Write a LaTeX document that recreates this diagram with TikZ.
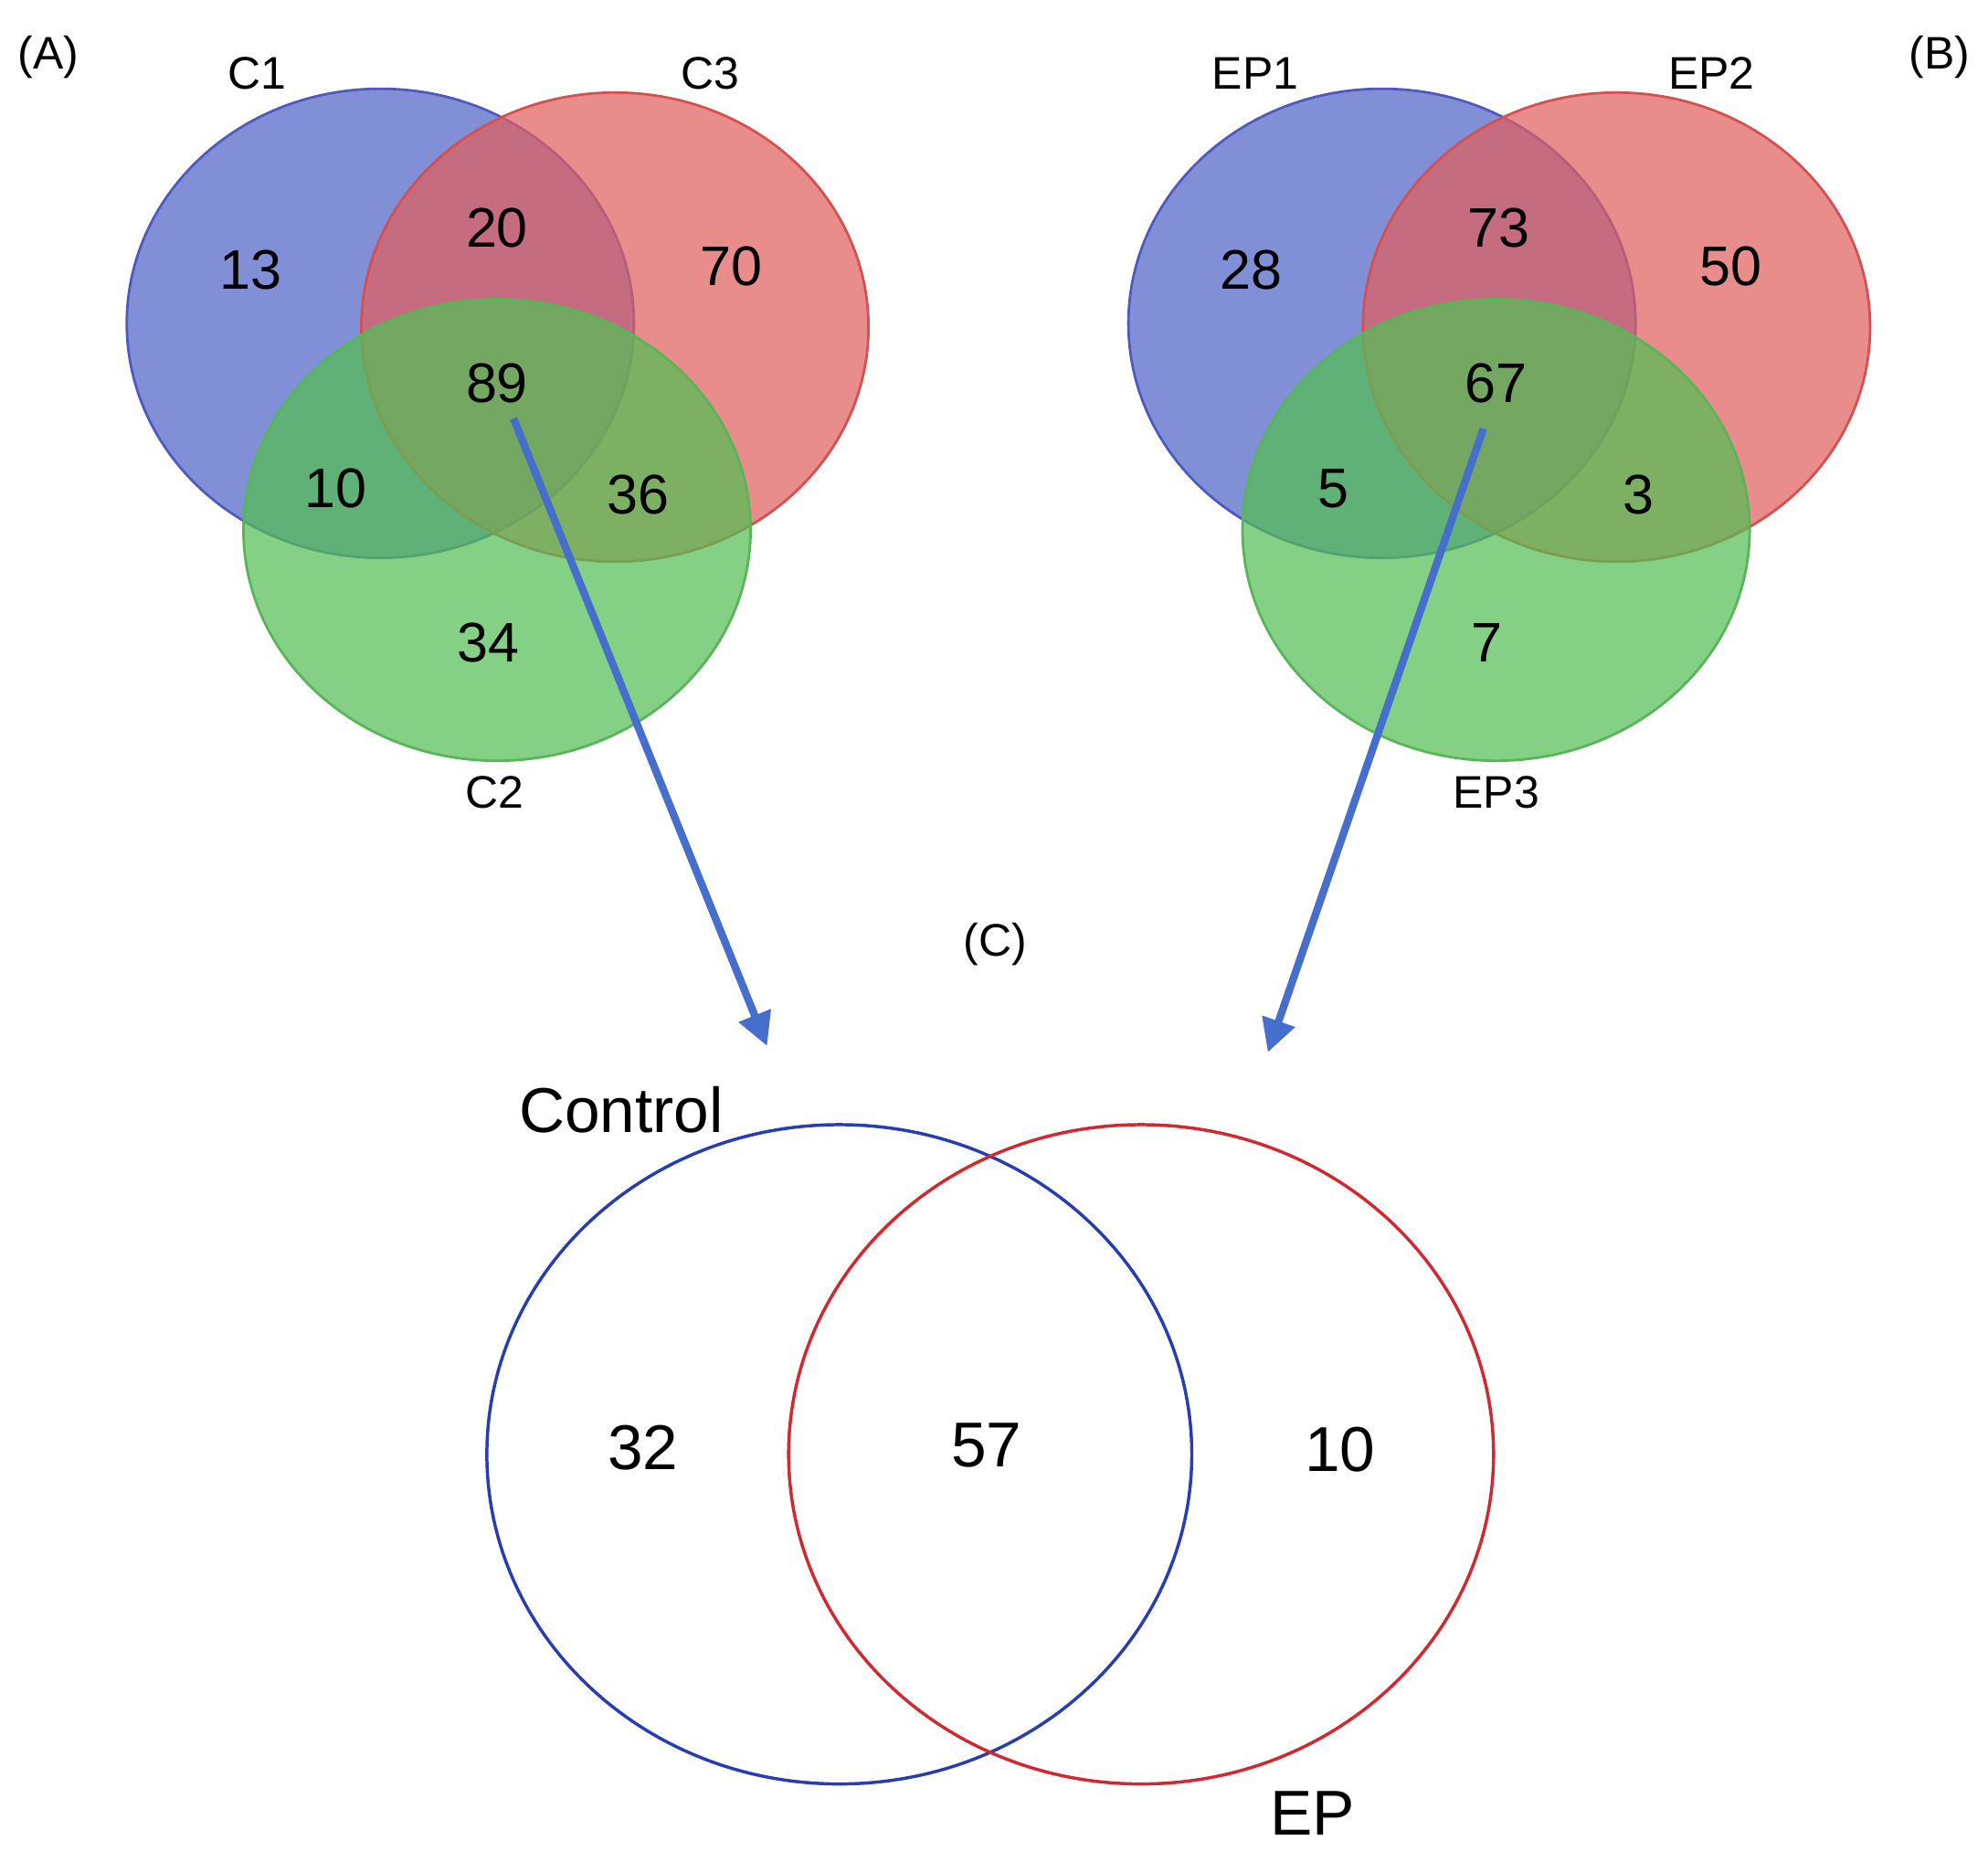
\documentclass[tikz,border=0pt]{standalone}
\usepackage{fontspec}
\setmainfont{Liberation Sans}
\usetikzlibrary{arrows.meta}
\begin{document}
\begin{tikzpicture}[x=1pt,y=-1pt,
  num/.style={font=\fontsize{44}{48}\selectfont},
  lab/.style={font=\fontsize{36}{40}\selectfont},
  big/.style={font=\fontsize{50}{56}\selectfont},
  setb/.style={draw={rgb,255:red,80;green,90;blue,190}, fill={rgb,255:red,80;green,100;blue,200}, fill opacity=0.72, line width=2pt},
  setr/.style={draw={rgb,255:red,215;green,80;blue,80}, fill={rgb,255:red,225;green,95;blue,95}, fill opacity=0.72, line width=2pt},
  setg/.style={draw={rgb,255:red,90;green,180;blue,90}, fill={rgb,255:red,85;green,190;blue,85}, fill opacity=0.72, line width=2pt},
  arr/.style={draw={rgb,255:red,70;green,110;blue,205}, line width=6pt, -{Triangle[length=26pt,width=26pt]}}]
\useasboundingbox (0,0) rectangle (1568,1468);
% A
\path[setb] (300,255) ellipse [x radius=200, y radius=185];
\path[setr] (485,258) ellipse [x radius=200, y radius=185];
\path[setg] (392,418) ellipse [x radius=200, y radius=182];
% B
\path[setb] (1090,255) ellipse [x radius=200, y radius=185];
\path[setr] (1275,258) ellipse [x radius=200, y radius=185];
\path[setg] (1180,418) ellipse [x radius=200, y radius=182];
% C
\draw[line width=2.5pt, draw={rgb,255:red,40;green,60;blue,180}] (662,1147) ellipse [x radius=278, y radius=260];
\draw[line width=2.5pt, draw={rgb,255:red,210;green,40;blue,50}] (900,1147) ellipse [x radius=278, y radius=260];
% labels
\node[lab] (la) at (38,45) {(A)};
\node[lab] (lb) at (1530,45) {(B)};
\node[lab] (lc) at (785,745) {(C)};
\node[lab] (c1) at (203,58) {C1};
\node[lab] (c3) at (560,58) {C3};
\node[lab] (c2) at (390,625) {C2};
\node[lab] (e1) at (990,58) {EP1};
\node[lab] (e2) at (1350,58) {EP2};
\node[lab] (e3) at (1180,625) {EP3};
\node[big] (ctl) at (490,875) {Control};
\node[big] (ep) at (1035,1430) {EP};
% numbers
\node[num] (n13) at (198,213) {13};
\node[num] (n20) at (392,180) {20};
\node[num] (n70) at (577,210) {70};
\node[num] (n89) at (392,302) {89};
\node[num] (n10) at (265,385) {10};
\node[num] (n36) at (503,390) {36};
\node[num] (n34) at (385,507) {34};
\node[num] (m28) at (987,213) {28};
\node[num] (m73) at (1182,180) {73};
\node[num] (m50) at (1365,210) {50};
\node[num] (m67) at (1180,302) {67};
\node[num] (m5) at (1052,385) {5};
\node[num] (m3) at (1292,390) {3};
\node[num] (m7) at (1173,507) {7};
\node[big] (k32) at (507,1142) {32};
\node[big] (k57) at (778,1140) {57};
\node[big] (k10) at (1057,1143) {10};
% arrows
\coordinate (t1) at (605,825);
\coordinate (t2) at (1000,830);
\coordinate (s1) at (405,330);
\coordinate (s2) at (1170,338);
\draw[arr] (s1) -- (t1);
\draw[arr] (s2) -- (t2);
\end{tikzpicture}
\end{document}
